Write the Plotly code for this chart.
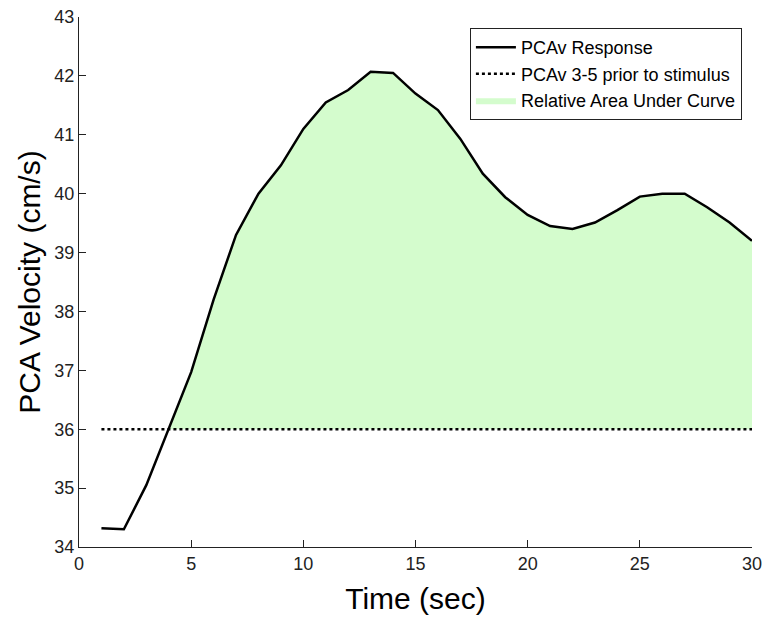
import numpy as np
import plotly.graph_objects as go

# PCAv response sampled once per second
time_s = [1, 2, 3, 4, 5, 6, 7, 8, 9, 10, 11, 12, 13, 14, 15,
          16, 17, 18, 19, 20, 21, 22, 23, 24, 25, 26, 27, 28, 29, 30]
pcav = [34.32, 34.30, 35.05, 36.00, 36.97, 38.20, 39.30, 40.00, 40.48, 41.10,
        41.55, 41.76, 42.07, 42.05, 41.70, 41.42, 40.93, 40.34, 39.94, 39.64,
        39.45, 39.40, 39.51, 39.72, 39.95, 40.00, 40.00, 39.77, 39.51, 39.20]
baseline = 36.0  # mean PCAv 3-5 s prior to stimulus

x_ticks = [0, 5, 10, 15, 20, 25, 30]
y_ticks = [34, 35, 36, 37, 38, 39, 40, 41, 42, 43]

t = np.array(time_s, dtype=float)
v = np.array(pcav, dtype=float)

# Region where the response sits above baseline, closed along the baseline
above = v >= baseline
first = int(np.argmax(above))
if first > 0:
    t0, t1, v0, v1 = t[first - 1], t[first], v[first - 1], v[first]
    t_cross = t0 + (baseline - v0) * (t1 - t0) / (v1 - v0)
else:
    t_cross = t[0]
fx = [t_cross] + list(t[first:]) + [t[-1], t_cross]
fy = [baseline] + list(v[first:]) + [baseline, baseline]

fig = go.Figure()

fig.add_trace(go.Scatter(
    x=fx, y=fy, fill="toself", fillcolor="#d4fccd",
    line=dict(width=0, color="rgba(0,0,0,0)"), mode="lines",
    name="Relative Area Under Curve", legendrank=3, hoverinfo="skip",
))
fig.add_trace(go.Scatter(
    x=[t[0], t[-1]], y=[baseline, baseline], mode="lines",
    line=dict(color="black", width=2.5, dash="dot"),
    name="PCAv 3-5 prior to stimulus", legendrank=2,
))
fig.add_trace(go.Scatter(
    x=time_s, y=pcav, mode="lines",
    line=dict(color="black", width=2.5),
    name="PCAv Response", legendrank=1,
))

font_family = "Liberation Sans, Arial, Helvetica, sans-serif"

fig.update_layout(
    width=765, height=622,
    margin=dict(l=79, r=13, t=17, b=75),
    paper_bgcolor="white", plot_bgcolor="white",
    font=dict(family=font_family, color="#222222", size=18),
    showlegend=True,
    legend=dict(
        x=0.985, y=0.979, xanchor="right", yanchor="top",
        bordercolor="#222222", borderwidth=1, bgcolor="white",
        font=dict(size=18, color="black"),
        tracegroupgap=0, itemwidth=40,
    ),
    xaxis=dict(
        range=[0, 30], tickvals=x_ticks, ticktext=[str(v_) for v_ in x_ticks],
        ticks="inside", ticklen=7, tickwidth=1, tickcolor="#222222",
        showline=True, linecolor="#222222", linewidth=1,
        showgrid=False, zeroline=False, automargin=False,
        tickfont=dict(size=18, color="#222222"),
        title=dict(text="Time (sec)", font=dict(size=30, color="black"), standoff=15),
    ),
    yaxis=dict(
        range=[34, 43], tickvals=y_ticks, ticktext=[str(v_) for v_ in y_ticks],
        ticks="inside", ticklen=7, tickwidth=1, tickcolor="#222222",
        showline=True, linecolor="#222222", linewidth=1,
        showgrid=False, zeroline=False, automargin=False,
        tickfont=dict(size=18, color="#222222"),
        title=dict(text="PCA Velocity (cm/s)", font=dict(size=30, color="black"), standoff=4),
    ),
)

fig.write_html("out.html")
